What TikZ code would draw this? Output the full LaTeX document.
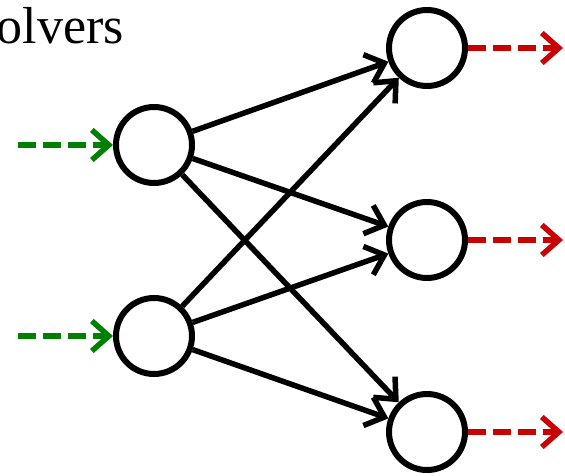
\documentclass[tikz,border=0pt]{standalone}
\usepackage{fontspec}
\setmainfont{Liberation Serif}
\usetikzlibrary{arrows.meta}
\definecolor{ingreen}{RGB}{0,128,0}
\definecolor{outred}{RGB}{200,0,0}
\begin{document}
\begin{tikzpicture}[x=1pt,y=-1pt,
  neuron/.style={draw,circle,line width=6pt,minimum size=76pt,inner sep=0pt,fill=white},
  conn/.style={line width=5.5pt,-{Straight Barb[length=17pt,width=30pt,line width=5.5pt]}},
  inarr/.style={conn,ingreen,dash pattern=on 18pt off 7pt},
  outarr/.style={conn,outred,dash pattern=on 18pt off 7pt}]
\useasboundingbox (0,0) rectangle (565,476);
\clip (0,0) rectangle (565,476);
\node[anchor=base east,font=\fontsize{52}{62}\selectfont,inner sep=0pt] (title) at (124,44) {Solvers};
\node[neuron] (l1) at (154,145) {};
\node[neuron] (l2) at (154,336) {};
\node[neuron] (r1) at (427,48) {};
\node[neuron] (r2) at (427,240) {};
\node[neuron] (r3) at (427,432) {};
\coordinate (i1) at (18,145);
\coordinate (i2) at (18,336);
\coordinate (o1) at (563,48);
\coordinate (o2) at (563,240);
\coordinate (o3) at (563,432);
\foreach \a in {l1,l2}{
  \foreach \b in {r1,r2,r3}{
    \draw[conn] (\a) -- (\b);
  }
}
\draw[inarr] (i1) -- (l1);
\draw[inarr] (i2) -- (l2);
\draw[outarr] (r1) -- (o1);
\draw[outarr] (r2) -- (o2);
\draw[outarr] (r3) -- (o3);
\end{tikzpicture}
\end{document}
